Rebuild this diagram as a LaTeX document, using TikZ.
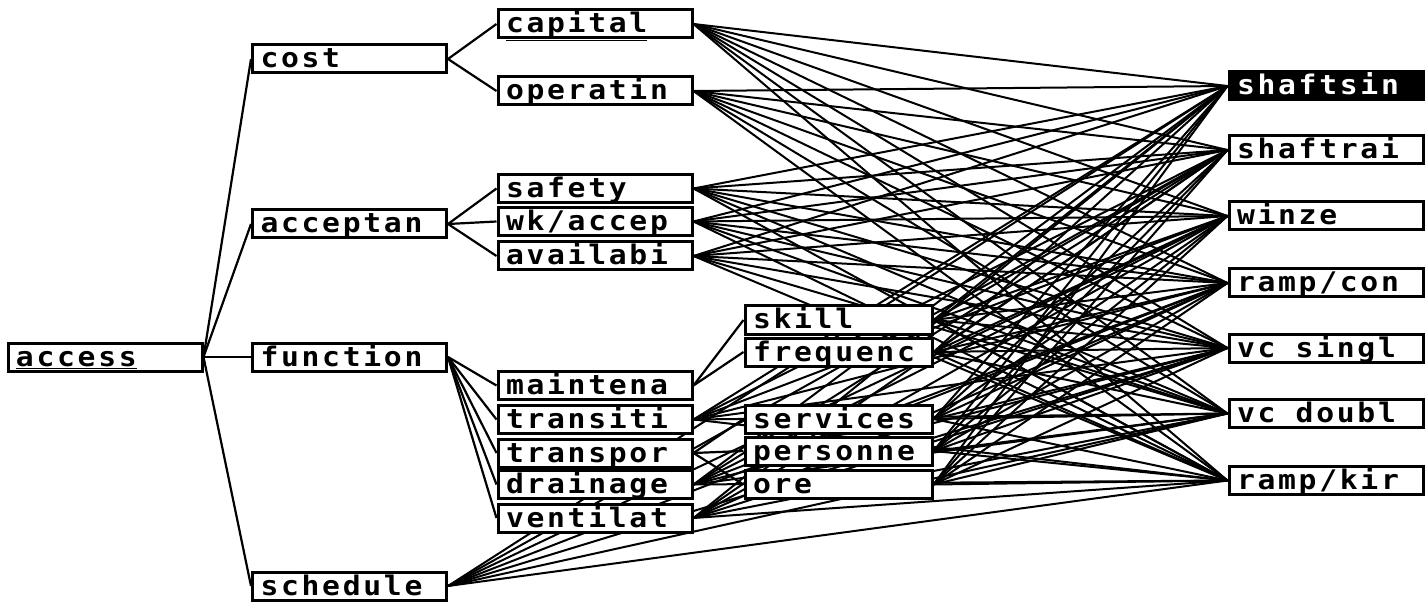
\documentclass[tikz,border=0pt]{standalone}
\usepackage{fontspec}
\usetikzlibrary{backgrounds}
\newfontfamily\pix[FakeStretch=1.1,LetterSpace=10]{DejaVu Sans Mono}
\newcommand{\gap}{\hspace{0.75em}}
\begin{document}
\begin{tikzpicture}[x=1pt,y=-1pt,
  lbl/.style={draw,line width=3pt,fill=white,minimum height=28pt,inner xsep=8pt,inner ysep=0pt,
    text height=22pt,text depth=4pt,align=left,anchor=center,
    font=\pix\bfseries\fontsize{27}{27}\selectfont},
  wa/.style={text width=178pt},
  wb/.style={text width=171pt},
  sel/.style={fill=black,text=white},
  conn/.style={line width=2pt},
  tree/.style={line width=2.2pt}]
\useasboundingbox (0,0) rectangle (1428,604);
% level 0
\node[lbl,wa] (access) at (105,357) {\underline{access}};
% level 1
\node[lbl,wa] (cost) at (349.5,59) {cost};
\node[lbl,wa] (acceptan) at (349.5,224) {acceptan};
\node[lbl,wa] (function) at (349.5,357) {function};
\node[lbl,wa] (schedule) at (349.5,586) {schedule};
% level 2
\node[lbl,wa] (capital) at (595,24) {\underline{capital}};
\node[lbl,wa] (operatin) at (595,91) {operatin};
\node[lbl,wa] (safety) at (595,188.5) {safety};
\node[lbl,wa] (wk) at (595,221.5) {wk/accep};
\node[lbl,wa] (availabi) at (595,256) {availabi};
\node[lbl,wa] (maintena) at (595,385.5) {maintena};
\node[lbl,wa] (transiti) at (595,419.5) {transiti};
\node[lbl,wa] (transpor) at (595,453) {transpor};
\node[lbl,wa] (drainage) at (595,484.5) {drainage};
\node[lbl,wa] (ventilat) at (595,518) {ventilat};
% level 3
\node[lbl,wb] (skill) at (838.5,320) {skill};
\node[lbl,wb] (frequenc) at (838.5,352) {frequenc};
\node[lbl,wb] (services) at (838.5,419) {services};
\node[lbl,wb] (personne) at (838.5,451) {personne};
\node[lbl,wb] (ore) at (838.5,484.5) {ore};
% alternatives
\node[lbl,wa,sel] (shaftsin) at (1326,86) {shaftsin};
\node[lbl,wa] (shaftrai) at (1326,150) {shaftrai};
\node[lbl,wa] (winze) at (1326,216) {winze};
\node[lbl,wa] (rampcon) at (1326,283) {ramp/con};
\node[lbl,wa] (vcs) at (1326,348) {vc\gap singl};
\node[lbl,wa] (vcd) at (1326,413.5) {vc\gap doubl};
\node[lbl,wa] (rampkir) at (1326,480.5) {ramp/kir};
\begin{scope}[on background layer]
\foreach \c in {cost,acceptan,function,schedule}
  \draw[tree] (access.east) -- (\c.west);
\foreach \c in {capital,operatin}
  \draw[tree] (cost.east) -- (\c.west);
\foreach \c in {safety,wk,availabi}
  \draw[tree] (acceptan.east) -- (\c.west);
\foreach \c in {maintena,transiti,transpor,drainage,ventilat}
  \draw[tree] (function.east) -- (\c.west);
\foreach \c in {skill,frequenc}
  \draw[tree] (maintena.east) -- (\c.west);
\foreach \c in {services,personne,ore}
  \draw[tree] (transpor.east) -- (\c.west);
\foreach \l in {capital,operatin,safety,wk,availabi,skill,frequenc,transiti,services,personne,ore,drainage,ventilat,schedule}
  \foreach \a in {shaftsin,shaftrai,winze,rampcon,vcs,vcd,rampkir}
    \draw[conn] (\l.east) -- (\a.west);
\end{scope}
\end{tikzpicture}
\end{document}
